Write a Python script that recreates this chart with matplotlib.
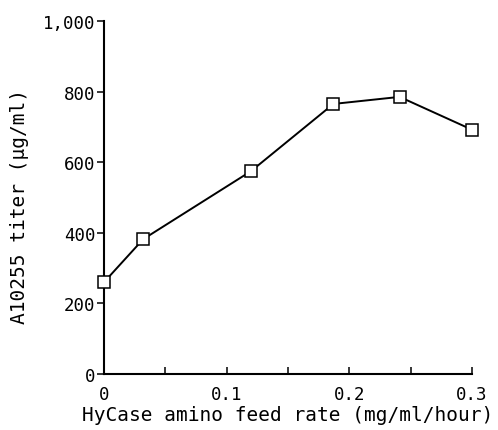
import matplotlib
matplotlib.use("Agg")
import matplotlib.pyplot as plt

feed_rate = [0.0, 0.032, 0.12, 0.187, 0.241, 0.3]
titer = [260, 382, 575, 765, 785, 692]
x_ticks = [0, 0.1, 0.2, 0.3]
x_tick_labels = ["0", "0.1", "0.2", "0.3"]
x_minor = [0.05, 0.15, 0.25]
y_ticks = [0, 200, 400, 600, 800, 1000]
y_tick_labels = ["0", "200", "400", "600", "800", "1,000"]

plt.rcParams['font.family'] = ['DejaVu Sans Mono']

fig = plt.figure(figsize=(4.98, 4.31), dpi=100)
ax = fig.add_axes([0.2088, 0.1299, 0.739, 0.8191])

ax.plot(feed_rate, titer, color='black', lw=1.4, marker='s', ms=8,
        mfc='white', mec='black', mew=1.1, clip_on=False, zorder=3)

ax.set_xlim(0, 0.3)
ax.set_ylim(0, 1000)
ax.set_xticks(x_ticks)
ax.set_xticklabels(x_tick_labels, fontsize=12.5)
ax.set_xticks(x_minor, minor=True)
ax.set_yticks(y_ticks)
ax.set_yticklabels(y_tick_labels, fontsize=12.5)

for s in ['top', 'right']:
    ax.spines[s].set_visible(False)
for s in ['left', 'bottom']:
    ax.spines[s].set_linewidth(1.5)

ax.tick_params(axis='x', which='both', direction='in', length=5, width=1.1, pad=8)
ax.tick_params(axis='y', which='both', direction='out', length=5, width=1.1, pad=1)

ax.set_xlabel("HyCase amino feed rate (mg/ml/hour)", fontsize=14, labelpad=1)
ax.set_ylabel("A10255 titer (\u03bcg/ml)", fontsize=14, labelpad=13)
ax.yaxis.set_label_coords(-0.205, 0.476)

fig.savefig("out.png", dpi=100)
